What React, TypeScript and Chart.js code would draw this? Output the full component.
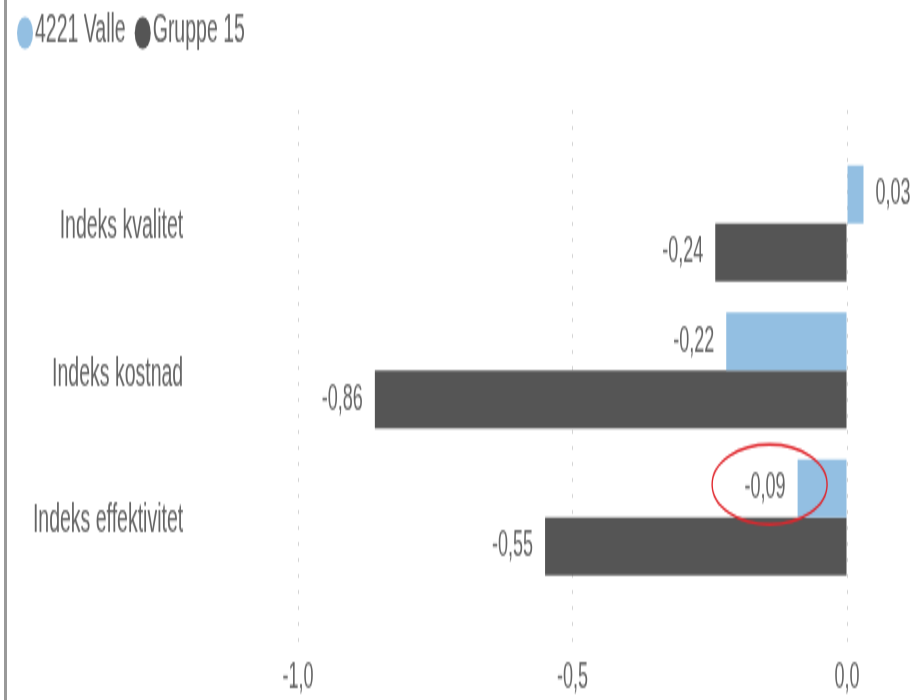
import React, { useEffect, useRef } from "react";
import { Chart, registerables } from "chart.js";

Chart.register(...registerables);

// ---- data ----
const categories = ["Indeks kvalitet", "Indeks kostnad", "Indeks effektivitet"];
const seriesNames = ["4221 Valle", "Gruppe 15"];
const valleValues = [0.03, -0.22, -0.09];
const gruppeValues = [-0.24, -0.86, -0.55];
const xTickValues = [-1.0, -0.5, 0.0];
const seriesColors = ["#93BFE2", "#555555"];
const xRange = { min: -1.2, max: 0.12 };
const yRange = { min: -0.771, max: 2.867 };
const highlighted = { dataset: 0, index: 2 };

// ---- look ----
const W = 916;
const H = 350;
const STRETCH_Y = 700 / H;
const FONT = '"Liberation Sans", Arial, sans-serif';
const TEXT = "#646464";

const fmt = (v: number, d: number) => v.toFixed(d).replace(".", ",");

const legendPlugin = {
  id: "customLegend",
  afterDraw(chart: any) {
    const ctx = chart.ctx;
    ctx.save();
    ctx.font = `19.5px ${FONT}`;
    ctx.textBaseline = "middle";
    ctx.textAlign = "left";
    let x = 17;
    const cy = 16;
    chart.data.datasets.forEach((ds: any) => {
      const r = 8;
      ctx.fillStyle = ds.backgroundColor;
      ctx.beginPath();
      ctx.arc(x + r, cy + 0.5, r, 0, Math.PI * 2);
      ctx.fill();
      ctx.fillStyle = TEXT;
      const tx = x + 2 * r + 2;
      ctx.fillText(ds.label, tx, cy);
      x = tx + ctx.measureText(ds.label).width + 9;
    });
    ctx.restore();
  },
};

const dataLabelPlugin = {
  id: "dataLabels",
  afterDatasetsDraw(chart: any) {
    const ctx = chart.ctx;
    ctx.save();
    ctx.font = `18px ${FONT}`;
    ctx.fillStyle = TEXT;
    ctx.textBaseline = "middle";
    chart.data.datasets.forEach((ds: any, di: number) => {
      const meta = chart.getDatasetMeta(di);
      meta.data.forEach((el: any, i: number) => {
        const v = ds.data[i].x;
        const txt = fmt(v, 2);
        if (v >= 0) {
          ctx.textAlign = "left";
          ctx.fillText(txt, el.x + 12, el.y);
        } else {
          ctx.textAlign = "right";
          ctx.fillText(txt, el.x - 12, el.y);
        }
      });
    });
    // highlight ellipse
    const el = chart.getDatasetMeta(highlighted.dataset).data[highlighted.index];
    if (el) {
      ctx.strokeStyle = "#E0262C";
      ctx.lineWidth = 1.4;
      ctx.beginPath();
      ctx.ellipse(el.x - 28, el.y - 2, 57.5, 20, 0, 0, Math.PI * 2);
      ctx.stroke();
    }
    ctx.restore();
  },
};

export default function App() {
  const ref = useRef<HTMLCanvasElement>(null);

  useEffect(() => {
    const chart = new Chart(ref.current as HTMLCanvasElement, {
      type: "bar",
      data: {
        datasets: [
          {
            label: seriesNames[0],
            data: valleValues.map((v, i) => ({ x: v, y: i })) as any,
            backgroundColor: seriesColors[0],
            borderWidth: 0,
          },
          {
            label: seriesNames[1],
            data: gruppeValues.map((v, i) => ({ x: v, y: i })) as any,
            backgroundColor: seriesColors[1],
            borderWidth: 0,
          },
        ],
      },
      options: {
        indexAxis: "y",
        responsive: false,
        animation: false,
        devicePixelRatio: 1,
        layout: { padding: { top: 55, right: 3.1, left: 0, bottom: 0 } },
        datasets: { bar: { barPercentage: 1, categoryPercentage: 0.79 } },
        plugins: {
          legend: { display: false },
          tooltip: { enabled: false },
        },
        scales: {
          x: {
            type: "linear",
            offset: false,
            min: xRange.min,
            max: xRange.max,
            afterBuildTicks: (s: any) => {
              s.ticks = xTickValues.map((v) => ({ value: v }));
            },
            afterFit: (s: any) => {
              s.height = 27.5;
            },
            grid: { color: "#d4d4d4", lineWidth: 1, drawTicks: false, offset: false },
            border: { display: false, dash: [2, 6] },
            ticks: {
              callback: (v: any) => fmt(Number(v), 1),
              font: { size: 18, family: FONT },
              color: TEXT,
              padding: 6,
              maxRotation: 0,
              autoSkip: false,
            },
          },
          y: {
            type: "linear",
            reverse: true,
            offset: false,
            min: yRange.min,
            max: yRange.max,
            afterBuildTicks: (s: any) => {
              s.ticks = categories.map((_, i) => ({ value: i }));
            },
            afterFit: (s: any) => {
              s.width = 188.2;
            },
            grid: { display: false, drawTicks: false, offset: false },
            border: { display: false },
            ticks: {
              callback: (v: any) => categories[Number(v)] ?? "",
              font: { size: 19.5, family: FONT },
              color: TEXT,
              padding: 5,
              labelOffset: 2,
              autoSkip: false,
            },
          },
        },
      },
      plugins: [legendPlugin, dataLabelPlugin],
    } as any);
    return () => chart.destroy();
  }, []);

  return (
    <div
      style={{
        position: "absolute",
        left: 0,
        top: 0,
        width: 916,
        height: 700,
        overflow: "hidden",
        background: "#ffffff",
      }}
    >
      <div
        style={{
          position: "absolute",
          left: 0,
          top: 0,
          width: W,
          height: H,
          transform: `scaleY(${STRETCH_Y})`,
          transformOrigin: "0 0",
        }}
      >
        <canvas ref={ref} width={W} height={H} style={{ display: "block", width: W, height: H }} />
      </div>
      <div
        style={{
          position: "absolute",
          left: 4,
          top: 0,
          width: 3,
          height: 700,
          background: "#999999",
        }}
      />
    </div>
  );
}
